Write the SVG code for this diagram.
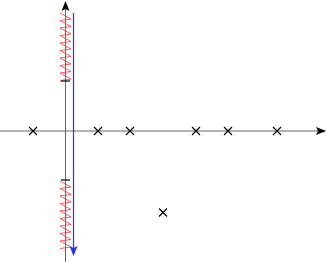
<svg xmlns="http://www.w3.org/2000/svg" width="327" height="262" viewBox="0 0 327 262">
<style>
.axis{stroke:#666;stroke-width:1;fill:none}
.cross{stroke:#000;stroke-width:1.1;fill:none}
.zig{stroke:#f33;stroke-width:0.8;fill:none}
.tick{stroke:#000;stroke-width:1.2}
.blue{stroke:#2233ff;stroke-width:1.2;fill:none}
</style>
<defs>
<marker id="ah" markerWidth="10" markerHeight="8" refX="9" refY="4" orient="auto" markerUnits="userSpaceOnUse">
<path d="M0,0 L10,4 L0,8 L2,4 Z" fill="#000"/>
</marker>
<marker id="ahb" markerWidth="10" markerHeight="8" refX="9" refY="4" orient="auto" markerUnits="userSpaceOnUse">
<path d="M0,0 L10,4 L0,8 L2,4 Z" fill="#2233ff"/>
</marker>
<path id="x" d="M-4,-4 L4,4 M-4,4 L4,-4"/>
</defs>
<g id="axes">
<line class="axis" x1="0" y1="131" x2="325" y2="131" marker-end="url(#ah)"/>
<line class="axis" x1="65.5" y1="262" x2="65.5" y2="2" marker-end="url(#ah)"/>
</g>
<g id="zigzag-top">
<polyline class="zig" points="60,13 71,19 60,20.5 71,26.5 60,28 71,34 60,35.5 71,41.5 60,43 71,49 60,50.5 71,56.5 60,58 71,64 60,65.5 71,71.5 60,73 71,79 60,80.5"/>
<line class="tick" x1="61" y1="81" x2="70" y2="81"/>
</g>
<g id="zigzag-bottom">
<line class="tick" x1="61" y1="180" x2="70" y2="180"/>
<polyline class="zig" points="60,181 71,187 60,188.5 71,194.5 60,196 71,202 60,203.5 71,209.5 60,211 71,217 60,218.5 71,224.5 60,226 71,232 60,233.5 71,239.5 60,241 71,247 60,248.5"/>
</g>
<g id="locus">
<line class="blue" x1="73.5" y1="13" x2="73.5" y2="255" marker-end="url(#ahb)"/>
</g>
<g id="poles">
<use href="#x" class="cross" x="33" y="131"/>
<use href="#x" class="cross" x="98" y="131"/>
<use href="#x" class="cross" x="130" y="131"/>
<use href="#x" class="cross" x="196" y="131"/>
<use href="#x" class="cross" x="228" y="131"/>
<use href="#x" class="cross" x="277" y="131"/>
<use href="#x" class="cross" x="163" y="212.5"/>
</g>
</svg>
